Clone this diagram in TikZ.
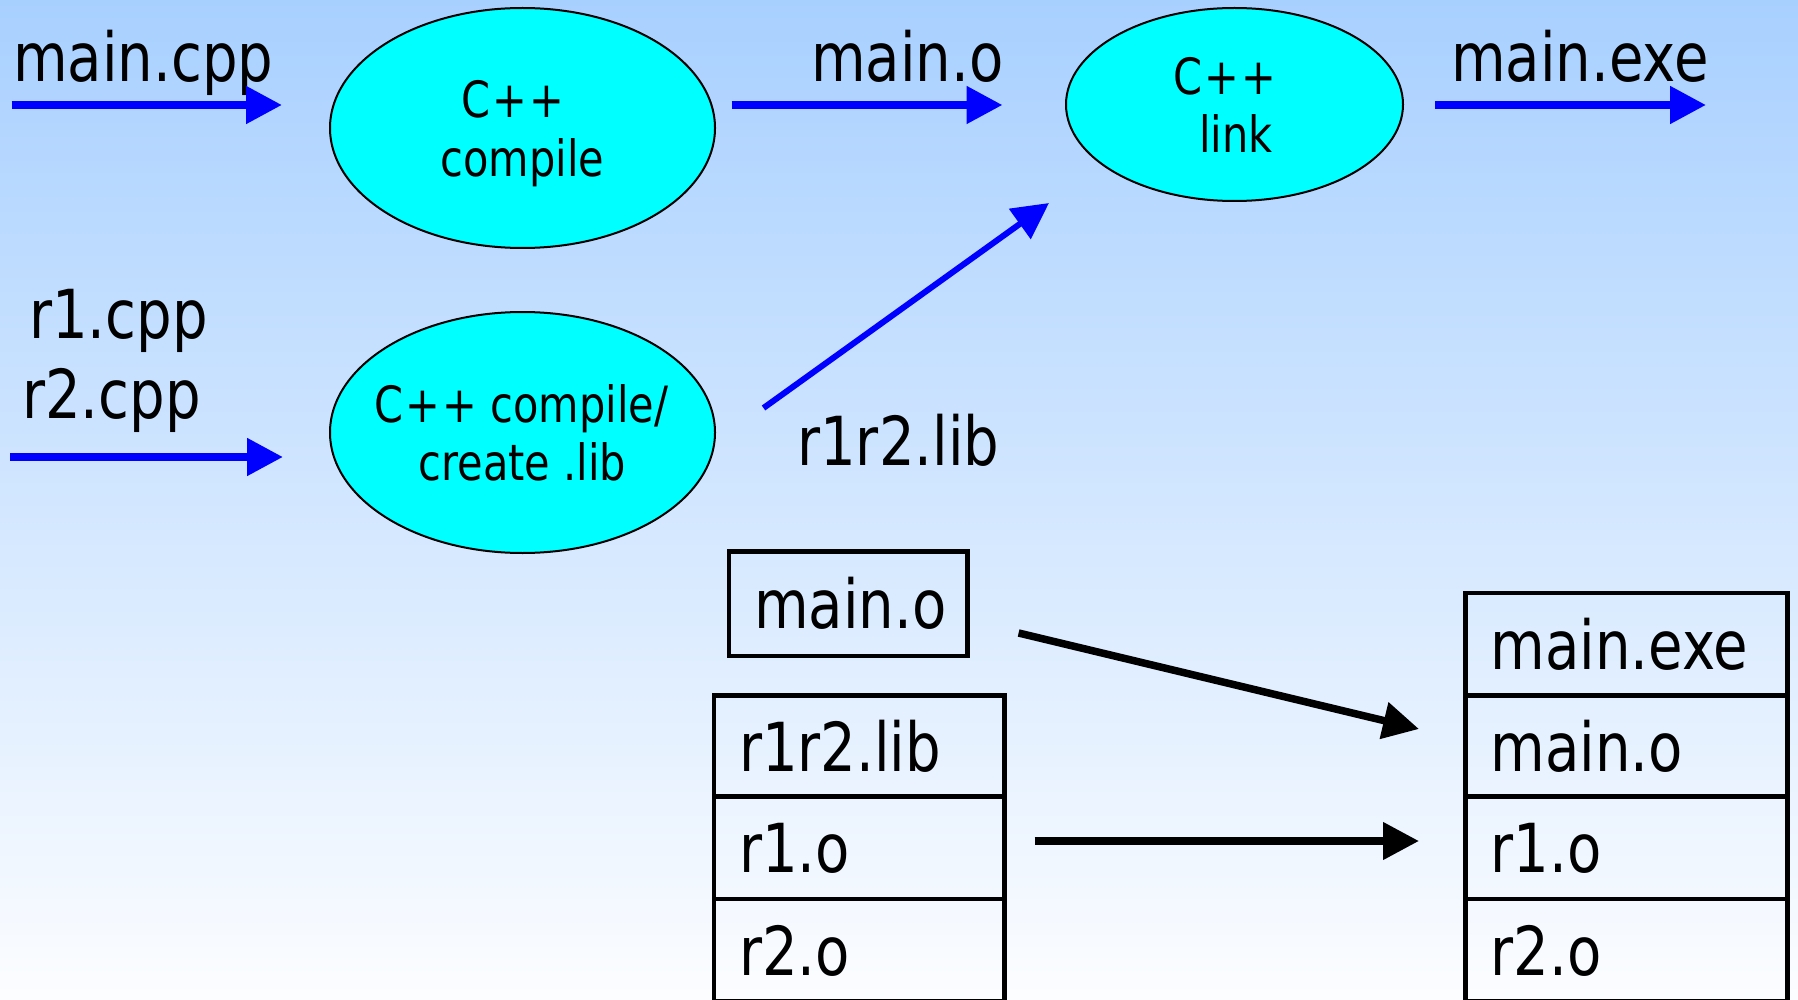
\documentclass[tikz,border=0pt]{standalone}
\usepackage{fontspec}
\setmainfont[FakeStretch=0.83]{DejaVu Sans}
\usetikzlibrary{arrows.meta,shapes.geometric}
\definecolor{bgtop}{RGB}{168,208,255}
\definecolor{bgbot}{RGB}{252,253,255}
\definecolor{procfill}{RGB}{0,255,255}
\definecolor{arrblue}{RGB}{0,0,255}
\begin{document}
\begin{tikzpicture}[x=1pt,y=-1pt,
  lbl/.style={inner sep=0pt,anchor=base west,font=\fontsize{67.6}{80}\selectfont},
  ptxt/.style={inner sep=0pt,anchor=base,font=\fontsize{50}{58}\selectfont},
  proc/.style={ellipse,draw=black,line width=2pt,fill=procfill,inner sep=0pt},
  cell/.style={rectangle,draw=black,line width=4.5pt,inner xsep=25pt,inner ysep=0pt,
    text height=50pt,text depth=0pt,align=left,font=\fontsize{67.6}{80}\selectfont},
  barrow/.style={draw=arrblue,line width=8pt,-{Triangle[length=36pt,width=36pt]}},
  darrow/.style={draw=arrblue,line width=6pt,-{Triangle[length=36pt,width=36pt]}},
  karrow/.style={draw=black,line width=7.5pt,-{Triangle[length=36pt,width=36pt]}}]
\useasboundingbox (0,0) rectangle (1798,1000);
\shade[top color=bgtop,bottom color=bgbot] (0,0) rectangle (1798,1000);

% process ellipses
\node[proc,minimum width=385pt,minimum height=240pt] (compile1) at (522.5,128) {};
\node[proc,minimum width=337pt,minimum height=193pt] (link) at (1234.5,104.5) {};
\node[proc,minimum width=385pt,minimum height=241pt] (compile2) at (522.5,432.5) {};

\node[ptxt] (t1a) at (513,118) {C\kern2pt+\kern2pt+};
\node[ptxt] (t1b) at (522.5,177) {compile};
\node[ptxt] (t2a) at (1225,95) {C\kern2pt+\kern2pt+};
\node[ptxt] (t2b) at (1236,153) {link};
\node[ptxt] (t3a) at (521.5,422) {C\kern2pt+\kern2pt+ compile/};
\node[ptxt] (t3b) at (522.5,480) {create .lib};

% labels
\node[lbl] (lmaincpp) at (13,82) {main.cpp};
\node[lbl] (lmaino) at (811,82) {main.o};
\node[lbl] (lmainexe) at (1451,82) {main.exe};
\node[lbl] (lr1) at (29,338) {r1.cpp};
\node[lbl] (lr2) at (22,418) {r2.cpp};
\node[lbl] (llib) at (797,465) {r1r2.lib};

% blue arrows
\coordinate (a1s) at (11.5,105);  \coordinate (a1e) at (282,105);
\coordinate (a2s) at (731.5,105); \coordinate (a2e) at (1002.5,105);
\coordinate (a3s) at (1435,105);  \coordinate (a3e) at (1706,105);
\coordinate (a4s) at (10,457);    \coordinate (a4e) at (283,457);
\coordinate (d1s) at (763.5,408); \coordinate (d1e) at (1049,203);
\draw[barrow] (a1s) -- (a1e);
\draw[barrow] (a2s) -- (a2e);
\draw[barrow] (a3s) -- (a3e);
\draw[barrow] (a4s) -- (a4e);
\draw[darrow] (d1s) -- (d1e);

% boxes
\node[cell,minimum width=238.5pt,minimum height=104.3pt,text width=188.5pt] (bmaino) at (848.25,603.85) {main.o};
\node[cell,minimum width=290.6pt,minimum height=101pt,text width=240.6pt] (blib) at (859.3,746.2) {r1r2.lib};
\node[cell,minimum width=290.6pt,minimum height=102.3pt,text width=240.6pt] (br1) at (859.3,847.85) {r1.o};
\node[cell,minimum width=290.6pt,minimum height=102pt,text width=240.6pt] (br2) at (859.3,950) {r2.o};

\node[cell,minimum width=322pt,minimum height=102.7pt,text width=272pt] (xexe) at (1626.5,644.35) {main.exe};
\node[cell,minimum width=322pt,minimum height=101pt,text width=272pt] (xmaino) at (1626.5,746.2) {main.o};
\node[cell,minimum width=322pt,minimum height=102.3pt,text width=272pt] (xr1) at (1626.5,847.85) {r1.o};
\node[cell,minimum width=322pt,minimum height=102pt,text width=272pt] (xr2) at (1626.5,950) {r2.o};

% black arrows
\coordinate (k1s) at (1018.6,633); \coordinate (k1e) at (1419,729);
\coordinate (k2s) at (1034.7,841); \coordinate (k2e) at (1419,841);
\draw[karrow] (k1s) -- (k1e);
\draw[karrow] (k2s) -- (k2e);
\end{tikzpicture}
\end{document}
